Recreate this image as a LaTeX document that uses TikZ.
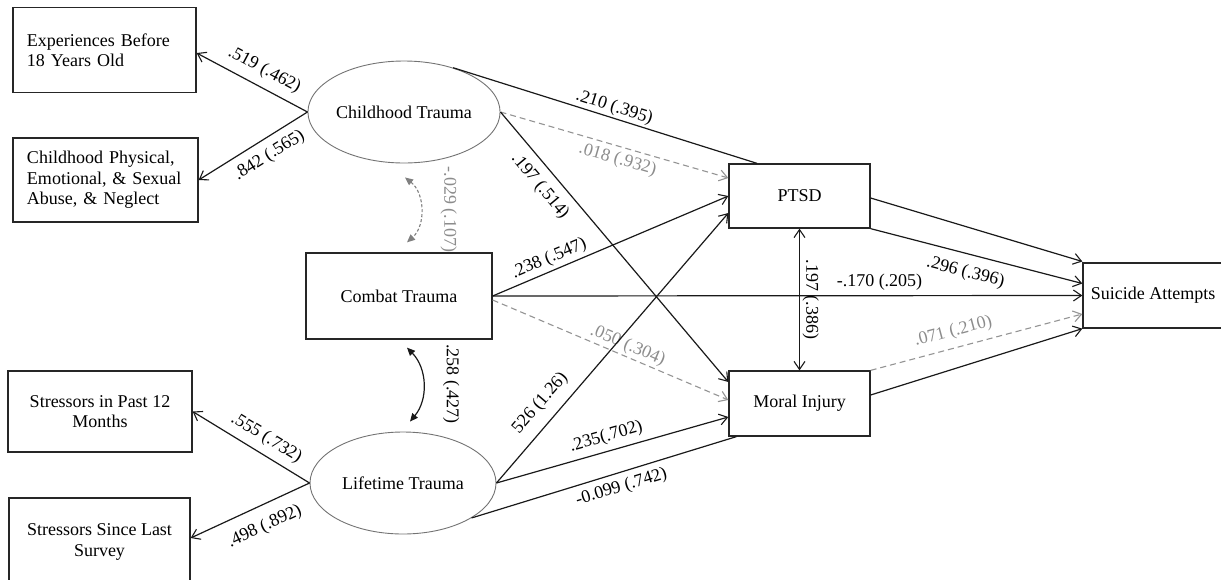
\documentclass[tikz,border=0pt]{standalone}
\usepackage{fontspec}
\setmainfont{Liberation Serif}
\usetikzlibrary{arrows.meta,shapes.geometric}

\begin{document}
\begin{tikzpicture}[x=1pt,y=-1pt,
  every node/.style={font=\fontsize{18}{20.5}\selectfont},
  box/.style={draw=black!85, line width=1.3pt, rectangle, inner sep=0pt, align=center},
  latent/.style={draw=black!55, line width=0.9pt, ellipse, minimum width=186pt,
                 minimum height=102pt, inner sep=0pt},
  barb/.tip={Straight Barb[length=8pt,width=11pt,line width=1.1pt]},
  reg/.style={draw=black!90, line width=1.2pt, -barb},
  nohead/.style={draw=black!90, line width=1.2pt},
  nsreg/.style={draw=black!42, line width=1.1pt, dash pattern=on 6pt off 4pt, -barb},
  cov/.style={draw=black!90, line width=1.2pt, barb-barb},
  bcov/.style={draw=black!90, line width=1.2pt,
               {Triangle[length=8pt,width=7pt]}-{Triangle[length=8pt,width=7pt]}},
  gcov/.style={draw=black!50, line width=1.1pt, dash pattern=on 3pt off 2pt,
               {Triangle[length=8pt,width=7pt]}-{Triangle[length=8pt,width=7pt]}},
  lab/.style={sloped},
  glab/.style={sloped, text=black!45},
  vlab/.style={rotate=-90, anchor=south, inner sep=0pt}
]
\useasboundingbox (0,0) rectangle (1221,579);
\clip (0,0) rectangle (1221,579);

% observed indicators and latent factors
\node[box, minimum width=183pt, minimum height=85pt, text width=155pt, align=left]
  (exp) at (104.5,50) {Experiences Before\\18 Years Old};
\node[box, minimum width=185pt, minimum height=84pt, text width=157pt, align=left]
  (cphys) at (105.5,180) {Childhood Physical,\\Emotional, \& Sexual\\Abuse, \& Neglect};
\node[latent] (ct) at (404,112) {Childhood Trauma};
\node[box, minimum width=186pt, minimum height=86pt] (combat) at (399,296) {Combat Trauma};
\node[latent] (lt) at (403,483) {Lifetime Trauma};
\node[box, minimum width=184pt, minimum height=81pt] (sp12) at (100,411.5) {Stressors in Past 12\\Months};
\node[box, minimum width=181pt, minimum height=88pt] (ssls) at (99.5,542) {Stressors Since Last\\Survey};

% outcomes
\node[box, minimum width=141pt, minimum height=64pt] (ptsd) at (799.5,196) {PTSD};
\node[box, minimum width=141pt, minimum height=65pt] (mi) at (799.5,403.5) {Moral Injury};
\node[box, minimum width=140pt, minimum height=65pt] (sa) at (1153,295.5) {Suicide Attempts};

% factor loadings
\draw[reg] (ct.west) -- node[lab, above, pos=0.46, inner sep=8pt] {.519 (.462)} ([yshift=-3pt]exp.east);
\draw[reg] (ct.west) -- node[lab, below, pos=0.43, inner sep=8pt] {.842 (.565)} (cphys.east);
\draw[reg] (lt.west) -- node[lab, above, pos=0.44, inner sep=7pt] {.555 (.732)} (sp12.east);
\draw[reg] (lt.west) -- node[lab, below, pos=0.45, inner sep=12pt] {.498 (.892)} ([yshift=4pt]ssls.east);

% covariances among predictors
\draw[gcov] ([xshift=1pt,yshift=-14pt]ct.south) to[bend left=50]
  node[vlab, text=black!45, outer sep=20pt] {-.029 (.107)} ([xshift=8pt,yshift=10pt]combat.north);
\draw[bcov] ([xshift=8pt,yshift=-8pt]combat.south) to[bend left=42]
  node[vlab, outer sep=20pt] {.258 (.427)} ([xshift=7pt,yshift=10pt]lt.north);

% structural paths
\draw[nohead] (ct.42) -- node[lab, above, pos=0.52, inner sep=1.5pt] {.210 (.395)} ([xshift=-42.5pt]ptsd.north);
\draw[nsreg] (ct.east) -- node[glab, below, pos=0.53, inner sep=4.5pt] {.018 (.932)} ([yshift=18pt]ptsd.west);
\draw[reg] (ct.east) -- node[lab, below, pos=0.233, inner sep=9pt] {.197 (.514)} ([yshift=21.5pt]mi.west);
\draw[reg] (combat.east) -- node[lab, above, pos=0.26, inner sep=3.5pt] {.238 (.547)} (ptsd.west);
\draw[reg] (combat.east) -- node[lab, above, pos=0.656, inner sep=4.5pt] {-.170 (.205)} (sa.west);
\draw[nsreg] ([yshift=-4pt]combat.east) -- node[glab, above, pos=0.555, inner sep=2pt] {.050 (.304)} ([yshift=3.5pt]mi.west);
\draw[reg] (lt.east) -- node[lab, above, pos=0.25, inner sep=10pt] {526 (1.26)} ([yshift=-17pt]ptsd.west);
\draw[reg] (lt.east) -- node[lab, above, pos=0.49, inner sep=5.5pt] {.235(.702)} ([yshift=-13.5pt]mi.west);
\draw[nohead] (lt.-27) -- node[lab, below, pos=0.55, inner sep=6pt] {-0.099 (.742)} ([xshift=8pt]mi.south west);

% paths to suicide attempts
\draw[reg] ([yshift=-2pt]ptsd.east) -- ([yshift=34pt]sa.west);
\draw[reg] (ptsd.south east) -- node[lab, below, pos=0.47, inner sep=10pt] {.296 (.396)} ([yshift=12pt]sa.west);
\draw[nsreg] (mi.north east) -- node[glab, above, pos=0.41, inner sep=7.5pt] {.071 (.210)} ([yshift=-18.5pt]sa.west);
\draw[reg] ([yshift=8.5pt]mi.east) -- (sa.south west);

% residual covariance of the outcomes
\draw[cov] (ptsd.south) -- node[vlab, outer sep=3pt] {.197 (.386)} (mi.north);
\end{tikzpicture}
\end{document}
